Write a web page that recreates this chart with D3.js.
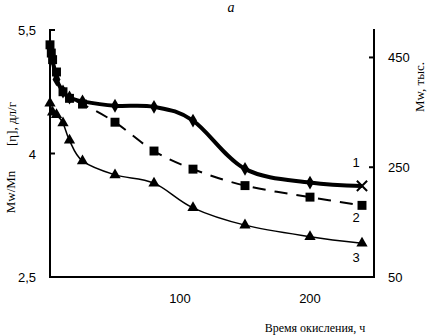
<!DOCTYPE html>
<html>
<head>
<meta charset="utf-8">
<script src="https://cdn.jsdelivr.net/npm/d3@7"></script>
<style>
    body { margin: 0; background: #fff; }
    .axis-line { stroke: #000; stroke-width: 2; }
    .tick-lbl { font-family: "Liberation Sans", Arial, sans-serif; font-size: 13px; fill: #000; }
    .ttl { font-family: "Liberation Serif", "Times New Roman", serif; font-size: 13px; fill: #000; }
</style>
</head>
<body>
<div id="chart"></div>
<script>

// time of oxidation, h
let times = [0, 1, 2, 5, 10, 15, 25, 50, 80, 110, 150, 200, 240];

// curve 1: Mw, thousands (right axis)
let mwValues = [468, 455, 446, 410, 388, 377, 370, 362, 360, 335, 247, 222, 216];
// curve 2: [eta], dl/g (left axis)
let etaValues = [5.32, 5.22, 5.14, 4.99, 4.75, 4.67, 4.60, 4.38, 4.03, 3.81, 3.61, 3.47, 3.37];
// curve 3: Mw/Mn (left axis)
let polyTimes = [0, 2, 5, 10, 15, 25, 50, 80, 110, 150, 200, 240];
let polyValues = [4.61, 4.50, 4.47, 4.37, 4.16, 3.91, 3.74, 3.64, 3.34, 3.13, 2.99, 2.91];

let leftTicks = [2.5, 4, 5.5];
let rightTicks = [50, 250, 450];
let xTicks = [100, 200];

let width = 429, height = 336;

let svg = d3.select("#chart").append("svg")
    .attr("width", width)
    .attr("height", height);

// Scales
let x = d3.scaleLinear().domain([0, 250]).range([50, 375]);
let yLeft = d3.scaleLinear().domain([2.5, 5.5]).range([277, 30]);
let yRight = d3.scaleLinear().domain([50, 500]).range([277, 30]);

// Axis lines
svg.append("line").attr("class", "axis-line")
    .attr("x1", 50).attr("x2", 50).attr("y1", 29).attr("y2", 278);
svg.append("line").attr("class", "axis-line")
    .attr("x1", 374).attr("x2", 374).attr("y1", 29).attr("y2", 278);
svg.append("line").attr("class", "axis-line")
    .attr("x1", 49).attr("x2", 375).attr("y1", 277).attr("y2", 277);

// Left ticks (inside)
leftTicks.forEach(function(d) {
    svg.append("line").attr("class", "axis-line")
        .attr("x1", 50).attr("x2", 55)
        .attr("y1", yLeft(d)).attr("y2", yLeft(d));
    svg.append("text").attr("class", "tick-lbl")
        .attr("x", 36).attr("y", yLeft(d) + 5)
        .attr("text-anchor", "end")
        .text(String(d).replace(".", ","));
});

// Right ticks (inside)
rightTicks.forEach(function(d) {
    svg.append("line").attr("class", "axis-line")
        .attr("x1", 369).attr("x2", 374)
        .attr("y1", yRight(d)).attr("y2", yRight(d));
    svg.append("text").attr("class", "tick-lbl")
        .attr("x", 388).attr("y", yRight(d) + 5)
        .text(d);
});

// x tick labels
xTicks.forEach(function(d) {
    svg.append("text").attr("class", "tick-lbl")
        .attr("x", x(d)).attr("y", 303)
        .attr("text-anchor", "middle")
        .text(d);
});

// Titles
svg.append("text").attr("class", "ttl")
    .attr("x", 231).attr("y", 12)
    .attr("text-anchor", "middle")
    .style("font-style", "italic")
    .style("font-size", "14px")
    .text("a");

svg.append("text").attr("class", "ttl")
    .attr("x", 315).attr("y", 332)
    .attr("text-anchor", "middle")
    .style("font-size", "12px")
    .text("Время окисления, ч");

svg.append("text").attr("class", "ttl")
    .attr("transform", "translate(15,192) rotate(-90)")
    .attr("text-anchor", "middle")
    .text("Mw/Mn");

svg.append("text").attr("class", "ttl")
    .attr("transform", "translate(16,124) rotate(-90)")
    .attr("text-anchor", "middle")
    .text("[η], дл/г");

svg.append("text").attr("class", "ttl")
    .attr("transform", "translate(424,87) rotate(-90)")
    .attr("text-anchor", "middle")
    .text("Mw, тыс.");

// Lines
let curve = d3.curveCardinal.tension(0);

function drawLine(xs, ys, scale, strokeW, dash) {
    let pts = xs.map(function(t, i) { return [x(t), scale(ys[i])]; });
    svg.append("path")
        .datum(pts)
        .attr("fill", "none")
        .attr("stroke", "#000")
        .attr("stroke-width", strokeW)
        .attr("stroke-dasharray", dash)
        .attr("d", d3.line().curve(curve));
    return pts;
}

let pts1 = drawLine(times, mwValues, yRight, 4, null);
let pts2 = drawLine(times, etaValues, yLeft, 2, "13,9");
let pts3 = drawLine(polyTimes, polyValues, yLeft, 1.5, null);

// Markers
let diamond = d3.symbol().type(d3.symbolDiamond).size(55);
let square = d3.symbol().type(d3.symbolSquare).size(80);
let triangle = d3.symbol().type(d3.symbolTriangle).size(55);
let cross = d3.symbol().type(d3.symbolX).size(70);

function drawMarkers(pts, sym, lastSym) {
    svg.append("g").selectAll("path")
        .data(pts)
        .join("path")
        .attr("transform", function(d) { return "translate(" + d[0] + "," + d[1] + ")"; })
        .attr("d", function(d, i) { return (lastSym && i === pts.length - 1) ? lastSym() : sym(); })
        .attr("fill", "#000")
        .attr("stroke", "#000")
        .attr("stroke-width", function(d, i) { return (lastSym && i === pts.length - 1) ? 2 : 0; });
}

drawMarkers(pts1, diamond, cross);
drawMarkers(pts2, square);
drawMarkers(pts3, triangle);

// Curve numbers
let curveNames = ["1", "2", "3"];
let nameY = [167, 222, 262];
curveNames.forEach(function(d, i) {
    svg.append("text").attr("class", "tick-lbl")
        .attr("x", 356).attr("y", nameY[i])
        .attr("text-anchor", "middle")
        .text(d);
});

</script>
</body>
</html>
